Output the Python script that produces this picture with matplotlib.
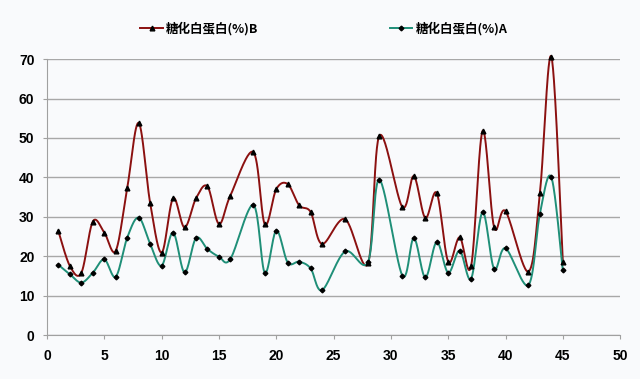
import numpy as np
import matplotlib
matplotlib.use('Agg')
import matplotlib.pyplot as plt

plt.rcParams['font.family'] = ['Liberation Sans', 'Noto Sans CJK SC', 'DejaVu Sans']

# data (some sample numbers are missing in the source)
x = [1, 2, 3, 4, 5, 6, 7, 8, 9, 10, 11, 12, 13, 14, 15, 16, 18, 19, 20, 21,
     22, 23, 24, 26, 28, 29, 31, 32, 33, 34, 35, 36, 37, 38, 39, 40, 42, 43, 44, 45]
val_b = [26.3, 17.5, 15.8, 28.8, 26.0, 21.4, 37.3, 53.8, 33.5, 20.9, 34.7, 27.3, 34.7, 37.7,
         28.2, 35.4, 46.4, 28.1, 37.0, 38.3, 32.9, 31.2, 23.1, 29.4, 18.2, 50.6, 32.5, 40.3,
         29.7, 36.0, 18.6, 24.8, 17.5, 51.8, 27.4, 31.4, 16.1, 36.0, 70.6, 18.6]
val_a = [17.8, 15.4, 13.3, 15.8, 19.2, 14.8, 24.7, 29.8, 23.1, 17.6, 26.0, 15.9, 24.6, 21.8,
         19.9, 19.3, 33.0, 15.8, 26.5, 18.4, 18.6, 16.9, 11.4, 21.2, 18.5, 39.4, 15.1, 24.6,
         14.6, 23.6, 15.8, 21.4, 14.3, 31.2, 16.8, 22.0, 12.7, 30.8, 40.0, 16.4]
label_b = '糖化白蛋白(%)B'
label_a = '糖化白蛋白(%)A'


def smooth(px, py, n=30):
    # excel-like smoothed line (catmull-rom bezier)
    px = np.asarray(px, float)
    py = np.asarray(py, float)
    P = np.column_stack([px, py])
    P = np.vstack([P[0], P, P[-1]])
    t = np.linspace(0, 1, n)[:, None]
    out = []
    for i in range(1, len(P) - 2):
        p0, p1, p2, p3 = P[i - 1], P[i], P[i + 1], P[i + 2]
        c1 = p1 + (p2 - p0) / 6.
        c2 = p2 - (p3 - p1) / 6.
        seg = (1 - t)**3 * p1 + 3 * (1 - t)**2 * t * c1 + 3 * (1 - t) * t**2 * c2 + t**3 * p2
        out.append(seg)
    out = np.vstack(out)
    return out[:, 0], out[:, 1]


bg = '#f9fafc'
fig = plt.figure(figsize=(6.4, 3.79), dpi=100, facecolor=bg)
ax = fig.add_axes([0.0734, 0.116, 0.8956, 0.728])
ax.set_facecolor(bg)

col_b = '#8b1010'
col_a = '#1f8f78'

sx, sy = smooth(x, val_b)
ax.plot(sx, sy, color=col_b, lw=1.4, zorder=3, clip_on=False)
sx, sy = smooth(x, val_a)
ax.plot(sx, sy, color=col_a, lw=1.4, zorder=3)
ax.plot(x, val_b, ls='none', marker='^', ms=3.4, color='black', zorder=4, clip_on=False)
ax.plot(x, val_a, ls='none', marker='D', ms=2.4, color='black', zorder=4)

# legend proxies
hb, = ax.plot([], [], color=col_b, lw=1.4, marker='^', ms=3.4, mfc='black', mec='black')
ha, = ax.plot([], [], color=col_a, lw=1.4, marker='D', ms=2.4, mfc='black', mec='black')
fig.legend([hb, ha], [label_b, label_a], loc='center', bbox_to_anchor=(0.506, 0.925),
           ncol=2, frameon=False, handlelength=1.8, handletextpad=0.25, columnspacing=10.5,
           prop={'family': ['Noto Sans CJK SC'], 'size': 9, 'weight': 'bold'})

ax.set_xlim(0, 50)
ax.set_ylim(0, 70)
ax.set_xticks(range(0, 51, 5))
ax.set_yticks(range(0, 71, 10))
ax.grid(axis='y', color='#a8a8a8', lw=1)
ax.set_axisbelow(True)
for s in ['top', 'right']:
    ax.spines[s].set_visible(False)
for s in ['left', 'bottom']:
    ax.spines[s].set_color('#a0a0a0')
ax.tick_params(colors='#a0a0a0', labelcolor='black', length=3, labelsize=10)
for lab in ax.get_xticklabels() + ax.get_yticklabels():
    lab.set_fontweight('bold')
ax.tick_params(axis='x', pad=7)
ax.tick_params(axis='y', pad=6)

fig.savefig('out.png', dpi=100, facecolor=bg)
